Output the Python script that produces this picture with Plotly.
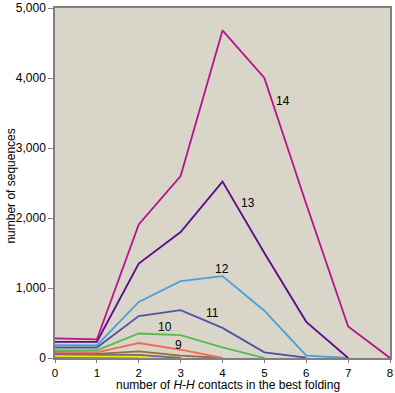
import plotly.graph_objects as go

contacts = [0, 1, 2, 3, 4, 5, 6, 7, 8]
lengths = [4, 5, 6, 7, 8, 9, 10, 11, 12, 13, 14]
series = {
    4: [10, 5, 0],
    5: [38, 35, 25, 0],
    6: [22, 20, 18, 0],
    7: [55, 50, 45, 0],
    8: [70, 60, 95, 33, 0],
    9: [90, 80, 214, 118, 0],
    10: [110, 110, 350, 328, 152, 0],
    11: [150, 150, 598, 684, 430, 80, 5],
    12: [185, 180, 800, 1097, 1170, 675, 33, 0],
    13: [230, 232, 1350, 1800, 2520, 1500, 517, 0],
    14: [280, 265, 1909, 2600, 4680, 4000, 2200, 450, 0],
}
colors = {
    4: "#d8202a", 5: "#f08a1c", 6: "#f2e200", 7: "#6b6f8f", 8: "#9b6b3a",
    9: "#f26b5b", 10: "#5cb84c", 11: "#4a55a5", 12: "#4b9ed6",
    13: "#5a0c8c", 14: "#b5148c",
}
label_pos = {14: (5.45, 3670), 13: (4.6, 2215), 12: (3.99, 1270),
             11: (3.75, 640), 10: (2.62, 440), 9: (2.95, 185)}

fig = go.Figure()
for n in lengths:
    vals = series[n]
    fig.add_trace(go.Scatter(x=contacts[:len(vals)], y=vals, mode="lines",
                             line=dict(color=colors[n], width=1.8),
                             showlegend=False, hoverinfo="skip"))
for n, (lx, ly) in label_pos.items():
    fig.add_annotation(x=lx, y=ly, text=str(n), showarrow=False,
                       font=dict(size=12, color="black"))

fig.add_annotation(xref="paper", yref="paper", x=0.516, y=-0.1,
                   text="number of <i>H-H</i> contacts in the best folding",
                   showarrow=False, font=dict(size=12, color="black"),
                   xanchor="center", yanchor="bottom", borderpad=0)
fig.add_annotation(xref="paper", yref="paper", x=-0.134, y=0.49,
                   text="number of sequences", textangle=-90,
                   showarrow=False, font=dict(size=12, color="black"),
                   xanchor="center", yanchor="middle")

fig.update_layout(
    width=395, height=393,
    margin=dict(l=55, r=5, t=8, b=35, autoexpand=False),
    paper_bgcolor="white", plot_bgcolor="#d9d5c8",
    font=dict(family="Liberation Sans, Arial, sans-serif", size=11, color="black"),
)
fig.update_xaxes(range=[0, 8], tickvals=contacts, showgrid=False, zeroline=False,
                 automargin=False,
                 showline=True, linecolor="#808080", linewidth=1.5, mirror=True,
                 ticks="outside", ticklen=3, tickcolor="#808080",
                 tickfont=dict(size=11.5))
fig.update_yaxes(range=[0, 5000], tickvals=[0, 1000, 2000, 3000, 4000, 5000],
                 tickformat=",d", showgrid=False, zeroline=False,
                 automargin=False,
                 showline=True, linecolor="#808080", linewidth=1.5, mirror=True,
                 ticks="outside", ticklen=5, tickcolor="#808080",
                 tickfont=dict(size=12))
fig.write_html("out.html", config={"displayModeBar": False},
               post_script="document.body.style.margin='0';document.body.style.overflow='hidden';")
